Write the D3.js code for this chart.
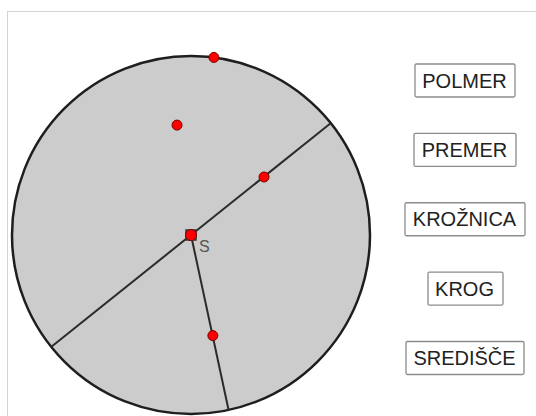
<!DOCTYPE html>
<html>
<head>
<meta charset="utf-8">
<script src="https://cdn.jsdelivr.net/npm/d3@7"></script>
<style>
  body { margin: 0; background: #fff; }
  svg { display: block; }
</style>
</head>
<body>
<script>
let w = 536;
let h = 416;

// geometry in circle units (radius 5, centre at 0,0)
let radius = 5;
let centre = [0, 0];
let diameterEnds = [[3.9, 3.12], [-3.9, -3.12]];
let radiusEnd = [1.05, -4.89];
let redPoints = [[0.64, 4.96], [-0.39, 3.07], [2.04, 1.62], [0.61, -2.81]];
let centreLabel = "S";
let buttons = ["POLMER", "PREMER", "KROŽNICA", "KROG", "SREDIŠČE"];

let xScale = d3.scaleLinear().domain([-5, 5]).range([191 - 179, 191 + 179]);
let yScale = d3.scaleLinear().domain([-5, 5]).range([235 + 179, 235 - 179]);
let btnScale = d3.scalePoint().domain(buttons).range([80.5, 358]);

let svg = d3.select("body")
  .append("svg")
  .attr("width", w)
  .attr("height", h);

// frame of the applet
svg.append("rect")
  .attr("x", 7.5)
  .attr("y", 11.5)
  .attr("width", 600)
  .attr("height", 500)
  .style("fill", "#fff")
  .style("stroke", "#d4d4d4");

svg.append("circle")
  .attr("cx", xScale(centre[0]))
  .attr("cy", yScale(centre[1]))
  .attr("r", xScale(radius) - xScale(0))
  .style("fill", "#cccccc")
  .style("stroke", "#1e1e1e")
  .style("stroke-width", 2.5);

svg.append("line")
  .attr("x1", xScale(diameterEnds[0][0]))
  .attr("y1", yScale(diameterEnds[0][1]))
  .attr("x2", xScale(diameterEnds[1][0]))
  .attr("y2", yScale(diameterEnds[1][1]))
  .style("stroke", "#2b2b2b")
  .style("stroke-width", 2);

svg.append("line")
  .attr("x1", xScale(centre[0]))
  .attr("y1", yScale(centre[1]))
  .attr("x2", xScale(radiusEnd[0]))
  .attr("y2", yScale(radiusEnd[1]))
  .style("stroke", "#2b2b2b")
  .style("stroke-width", 2);

svg.selectAll(".pt")
  .data(redPoints)
  .enter()
  .append("circle")
  .attr("class", "pt")
  .attr("cx", d => xScale(d[0]))
  .attr("cy", d => yScale(d[1]))
  .attr("r", 5)
  .style("fill", "#ff0000")
  .style("stroke", "#7a0000")
  .style("stroke-width", 1);

// centre point: square outline whose corners peek out behind the dot
svg.append("rect")
  .attr("x", xScale(centre[0]) - 5)
  .attr("y", yScale(centre[1]) - 5)
  .attr("width", 10)
  .attr("height", 10)
  .style("fill", "none")
  .style("stroke", "#333")
  .style("stroke-width", 1.5);
svg.append("circle")
  .attr("cx", xScale(centre[0]))
  .attr("cy", yScale(centre[1]))
  .attr("r", 5.5)
  .style("fill", "#ff0000")
  .style("stroke", "#7a0000")
  .style("stroke-width", 1);
svg.append("text")
  .attr("x", xScale(centre[0]) + 8)
  .attr("y", yScale(centre[1]) + 17)
  .style("font-family", "Liberation Sans, Arial, sans-serif")
  .style("font-size", "16px")
  .style("fill", "#555")
  .text(centreLabel);

// buttons
let btn = svg.selectAll(".btn")
  .data(buttons)
  .enter()
  .append("g")
  .attr("class", "btn")
  .attr("transform", d => "translate(464.5," + btnScale(d) + ")");

btn.append("text")
  .attr("text-anchor", "middle")
  .attr("dy", "0.36em")
  .style("font-family", "Liberation Sans, Arial, sans-serif")
  .style("font-size", "20px")
  .style("fill", "#222")
  .text(d => d);

btn.each(function() {
  let g = d3.select(this);
  let bb = g.select("text").node().getBBox();
  g.insert("rect", "text")
    .attr("x", Math.round(bb.x - 8) + 0.5)
    .attr("y", -16.5)
    .attr("width", Math.round(bb.width + 16))
    .attr("height", 33)
    .attr("rx", 1.5)
    .style("fill", "#fff")
    .style("stroke", "#8c8c8c")
    .style("stroke-width", 1.3);
});
</script>
</body>
</html>
